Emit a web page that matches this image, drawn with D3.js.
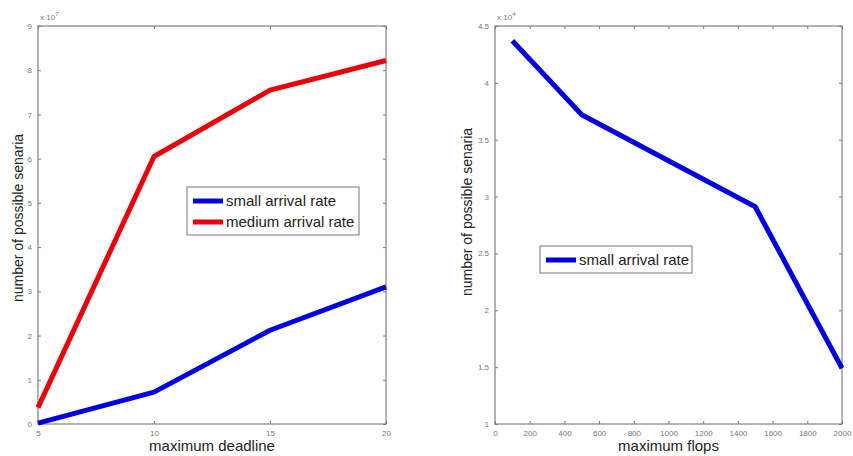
<!DOCTYPE html>
<html>
<head>
<meta charset="utf-8">
<script src="https://cdn.jsdelivr.net/npm/d3@7"></script>
<style>
  body { margin: 0; background: #fff; }
  svg { display: block; font-family: "Liberation Sans", Arial, sans-serif; }
  .tick text { fill: #777; font-size: 8px; }
  .axis-label { fill: #222; }
  .legend text { fill: #222; font-size: 15px; }
</style>
</head>
<body>
<svg id="chart" width="853" height="456"></svg>
<script>
// left panel: deadline vs scenarios (x 1e7)
const deadlines = [5, 10, 15, 20];
const smallRateByDeadline = [0.02, 0.72, 2.12, 3.1];
const mediumRateByDeadline = [0.37, 6.05, 7.55, 8.22];
const deadlineTicks = [5, 10, 15, 20];
const leftYTicks = [0, 1, 2, 3, 4, 5, 6, 7, 8, 9];

// right panel: flops vs scenarios (x 1e4)
const flops = [100, 500, 1500, 2000];
const smallRateByFlops = [4.37, 3.72, 2.91, 1.49];
const flopTicks = [0, 200, 400, 600, 800, 1000, 1200, 1400, 1600, 1800, 2000];
const rightYTicks = [1, 1.5, 2, 2.5, 3, 3.5, 4, 4.5];

const BLUE = "#0000e0";
const RED = "#e8000a";

const svg = d3.select("#chart");

function drawPanel(cfg) {
    const g = svg.append("g");
    const x = d3.scaleLinear().domain(cfg.xDomain).range([cfg.left, cfg.right]);
    const y = d3.scaleLinear().domain(cfg.yDomain).range([cfg.bottom, cfg.top]);

    // inward ticks on all four sides, labels only bottom/left
    g.append("g").attr("transform", `translate(0,${cfg.bottom})`)
        .call(d3.axisBottom(x).tickValues(cfg.xTicks).tickSizeInner(-3).tickSizeOuter(0).tickPadding(6).tickFormat(d3.format("d")));
    g.append("g").attr("transform", `translate(0,${cfg.top})`)
        .call(d3.axisTop(x).tickValues(cfg.xTicks).tickSizeInner(-3).tickSizeOuter(0).tickFormat(""));
    g.append("g").attr("transform", `translate(${cfg.left},0)`)
        .call(d3.axisLeft(y).tickValues(cfg.yTicks).tickSizeInner(-3).tickSizeOuter(0).tickPadding(6).tickFormat(cfg.yFormat));
    g.append("g").attr("transform", `translate(${cfg.right},0)`)
        .call(d3.axisRight(y).tickValues(cfg.yTicks).tickSizeInner(-3).tickSizeOuter(0).tickFormat(""));
    g.selectAll(".domain").remove();
    g.selectAll(".tick line").attr("stroke", "#777");

    g.append("rect")
        .attr("x", cfg.left).attr("y", cfg.top)
        .attr("width", cfg.right - cfg.left).attr("height", cfg.bottom - cfg.top)
        .attr("fill", "none").attr("stroke", "#808080").attr("stroke-width", 1.2);

    // exponent
    const ex = g.append("text").attr("x", cfg.left + 2).attr("y", cfg.top - 6)
        .attr("fill", "#777").attr("font-size", 8);
    ex.append("tspan").text("x 10");
    ex.append("tspan").attr("dy", -4).attr("font-size", 6).text(cfg.exponent);

    const line = d3.line().x(d => x(d[0])).y(d => y(d[1]));
    cfg.series.forEach(s => {
        g.append("path")
            .datum(cfg.xValues.map((v, i) => [v, s.values[i]]))
            .attr("d", line)
            .attr("fill", "none")
            .attr("stroke", s.color)
            .attr("stroke-width", 5)
            .attr("stroke-linejoin", "round");
    });

    g.append("text").attr("class", "axis-label").attr("font-size", 15)
        .attr("x", (cfg.left + cfg.right) / 2).attr("y", 451)
        .attr("text-anchor", "middle").text(cfg.xLabel);
    g.append("text").attr("class", "axis-label").attr("font-size", 14)
        .attr("transform", `translate(${cfg.yLabelX},${cfg.yLabelY}) rotate(-90)`)
        .attr("text-anchor", "middle").text(cfg.yLabel);

    // legend
    const lg = g.append("g").attr("class", "legend");
    lg.append("rect")
        .attr("x", cfg.legend.x).attr("y", cfg.legend.y)
        .attr("width", cfg.legend.w).attr("height", cfg.legend.h)
        .attr("fill", "#fff").attr("stroke", "#777").attr("stroke-width", 1);
    cfg.series.forEach((s, i) => {
        const cy = cfg.legend.y + 14 + i * 21;
        lg.append("line")
            .attr("x1", cfg.legend.x + 6).attr("x2", cfg.legend.x + 36)
            .attr("y1", cy).attr("y2", cy)
            .attr("stroke", s.color).attr("stroke-width", 5);
        lg.append("text").attr("x", cfg.legend.x + 39).attr("y", cy + 5).text(s.name);
    });
}

drawPanel({
    left: 38, right: 386, top: 26, bottom: 424,
    xDomain: [5, 20], yDomain: [0, 9],
    xTicks: deadlineTicks, yTicks: leftYTicks, yFormat: d3.format("d"),
    exponent: "7",
    xValues: deadlines,
    series: [
        { name: "small arrival rate", color: BLUE, values: smallRateByDeadline },
        { name: "medium arrival rate", color: RED, values: mediumRateByDeadline }
    ],
    xLabel: "maximum deadline", yLabel: "number of possible senaria", yLabelX: 23, yLabelY: 218,
    legend: { x: 187, y: 187, w: 172, h: 48 }
});

drawPanel({
    left: 495, right: 842, top: 26, bottom: 424,
    xDomain: [0, 2000], yDomain: [1, 4.5],
    xTicks: flopTicks, yTicks: rightYTicks, yFormat: d => d,
    exponent: "4",
    xValues: flops,
    series: [
        { name: "small arrival rate", color: BLUE, values: smallRateByFlops }
    ],
    xLabel: "maximum flops", yLabel: "number of possible senaria", yLabelX: 472, yLabelY: 212,
    legend: { x: 540, y: 246, w: 152, h: 27 }
});
</script>
</body>
</html>
